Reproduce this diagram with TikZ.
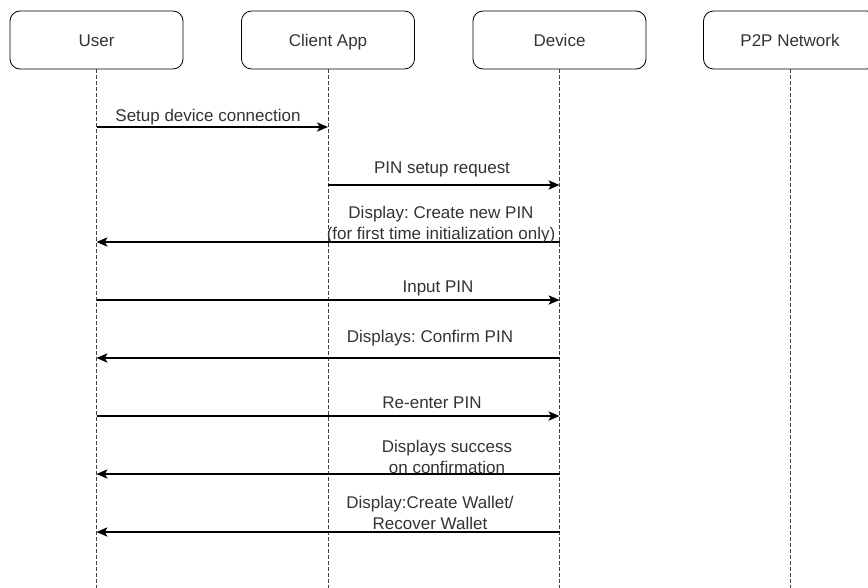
\documentclass[tikz,border=0pt]{standalone}
\usepackage{fontspec}
\setmainfont{Liberation Sans}
\usetikzlibrary{arrows.meta}
\frenchspacing

\begin{document}
\begin{tikzpicture}[x=0.03cm, y=-0.03cm, font=\fontsize{14.5}{17.1}\selectfont,
    actor/.style = {draw, rounded corners=0.3cm, minimum width=5.19cm, minimum height=1.74cm, text height=0.36cm, text depth=0cm, line width=0.7pt, text=black!80},
    life/.style = {dash pattern=on 0.1cm off 0.08cm, line width=0.8pt, black!75},
    msg/.style = {-{Stealth[length=0.33cm, width=0.28cm, inset=0.08cm]}, line width=1pt},
    lbl/.style = {anchor=base, align=center, inner sep=0pt, text=black!80}]
  \useasboundingbox (0,0) rectangle (868,588);
  \node[actor] (user) at (96.5,40) {User};
  \node[actor] (app) at (328,40) {Client App};
  \node[actor] (dev) at (559.5,40) {Device};
  \node[actor] (net) at (790,40) {P2P Network};
  \draw[life] (user) -- (user |- 0,588);
  \draw[life] (app) -- (app |- 0,588);
  \draw[life] (dev) -- (dev |- 0,588);
  \draw[life] (net) -- (net |- 0,588);
  \draw[msg] (user |- 0,127) -- (app |- 0,127);
  \node[lbl] (conn) at (208,121) {Setup device connection};
  \draw[msg] (app |- 0,185) -- (dev |- 0,185);
  \node[lbl] (pinreq) at (442,173) {PIN setup request};
  \draw[msg] (dev |- 0,242) -- (user |- 0,242);
  \node[lbl] (newpin) at (441,239) {Display: Create new PIN\\(for first time initialization only)};
  \draw[msg] (user |- 0,300) -- (dev |- 0,300);
  \node[lbl] (input) at (438,292) {Input PIN};
  \draw[msg] (dev |- 0,358) -- (user |- 0,358);
  \node[lbl] (confirm) at (430,342) {Displays: Confirm PIN};
  \draw[msg] (user |- 0,416) -- (dev |- 0,416);
  \node[lbl] (reenter) at (432,408) {Re-enter PIN};
  \draw[msg] (dev |- 0,474) -- (user |- 0,474);
  \node[lbl] (success) at (447,473) {Displays success\\on confirmation};
  \draw[msg] (dev |- 0,532) -- (user |- 0,532);
  \node[lbl] (wallet) at (430,529) {Display:Create Wallet/\\Recover Wallet};
\end{tikzpicture}
\end{document}
